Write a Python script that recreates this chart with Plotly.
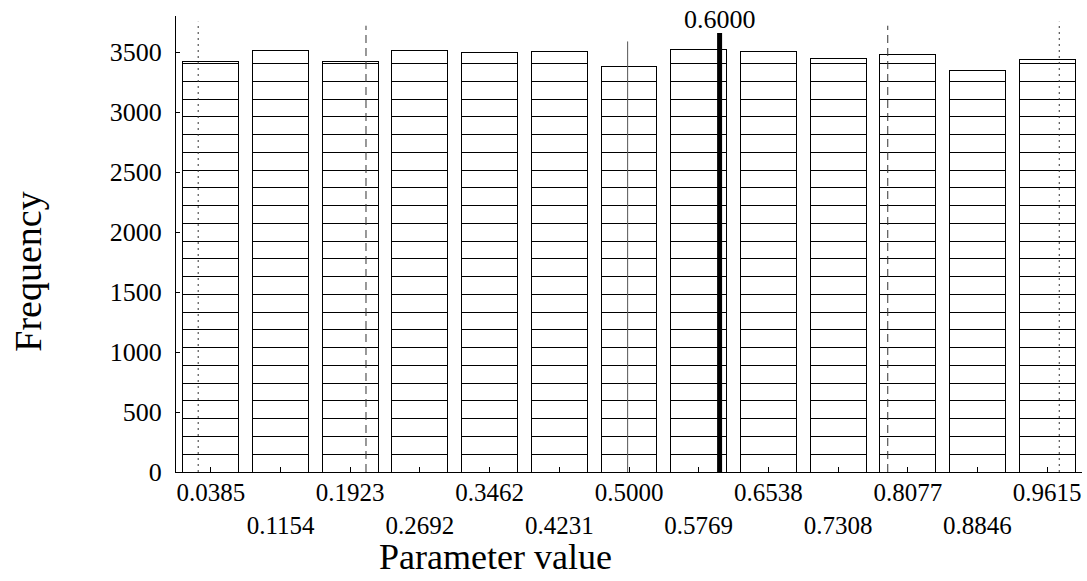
import plotly.graph_objects as go
import math

# ---- data ----
bin_centers = [0.0385, 0.1154, 0.1923, 0.2692, 0.3462, 0.4231, 0.5000,
               0.5769, 0.6538, 0.7308, 0.8077, 0.8846, 0.9615]
tick_labels = ["0.0385", "0.1154", "0.1923", "0.2692", "0.3462", "0.4231", "0.5000",
               "0.5769", "0.6538", "0.7308", "0.8077", "0.8846", "0.9615"]
frequencies = [3422, 3511, 3417, 3511, 3494, 3502, 3380, 3525, 3505, 3447, 3477, 3350, 3436]
segment_size = 148  # count per stacked segment

# reference lines
quantile_lo_outer = 0.0245
quantile_lo_inner = 0.2097
median_value = 0.4985
quantile_hi_inner = 0.7856
quantile_hi_outer = 0.9749
true_value = 0.6000
outer_top = 3752
inner_top = 3719
median_top = 3588
true_top = 3658
y_ticks = [0, 500, 1000, 1500, 2000, 2500, 3000, 3500]

FONT = "Liberation Serif, Times New Roman, serif"

fig = go.Figure()

n_seg = math.ceil(max(frequencies) / segment_size)
for k in range(n_seg):
    ys = []
    for f in frequencies:
        v = min(segment_size, f - k * segment_size)
        ys.append(v if v > 0 else None)
    fig.add_trace(go.Bar(
        x=bin_centers, y=ys,
        marker=dict(color="white", line=dict(color="black", width=1)),
        showlegend=False, hoverinfo="skip",
    ))

def vline(x, top, dash, width, color):
    fig.add_trace(go.Scatter(
        x=[x, x], y=[0, top], mode="lines",
        line=dict(color=color, width=width, dash=dash),
        showlegend=False, hoverinfo="skip",
    ))

vline(quantile_lo_outer, outer_top, "2px,4px", 1, "#333333")
vline(quantile_hi_outer, outer_top, "2px,4px", 1, "#333333")
vline(quantile_lo_inner, inner_top, "8px,5px", 1, "#333333")
vline(quantile_hi_inner, inner_top, "8px,5px", 1, "#333333")
vline(median_value, median_top, "solid", 1, "#555555")
vline(true_value, true_top, "solid", 5, "black")

fig.add_annotation(x=true_value, y=true_top, text=f"{true_value:.4f}",
                   showarrow=False, yanchor="bottom", yshift=-3,
                   font=dict(family=FONT, size=26, color="black"))

# axis titles
fig.add_annotation(xref="paper", yref="paper", x=0.353, y=-0.186,
                   text="Parameter value", showarrow=False,
                   xanchor="center", yanchor="middle",
                   font=dict(family=FONT, size=36, color="black"))
fig.add_annotation(xref="paper", yref="paper", x=-0.163, y=0.44,
                   text="Frequency", showarrow=False, textangle=-90,
                   xanchor="center", yanchor="middle",
                   font=dict(family=FONT, size=38, color="black"))

ticktext = [t if i % 2 == 0 else "<br>" + t for i, t in enumerate(tick_labels)]

fig.update_layout(
    width=1087, height=581,
    margin=dict(l=175.5, r=4.5, t=16, b=109, autoexpand=False),
    paper_bgcolor="white", plot_bgcolor="white",
    barmode="stack", bargap=0.197,
    font=dict(family=FONT, size=26, color="black"),
    xaxis=dict(
        range=[0, 1], tickvals=bin_centers, ticktext=ticktext, tickangle=0,
        ticks="inside", ticklen=5, tickcolor="black", tickwidth=1,
        showline=True, linecolor="black", linewidth=1,
        showgrid=False, zeroline=False, mirror=False,
        tickfont=dict(family=FONT, size=25),
        ticklabelstandoff=-2,
    ),
    yaxis=dict(
        range=[0, 3800], tickvals=y_ticks,
        ticks="inside", ticklen=4, tickcolor="black", tickwidth=1,
        showline=True, linecolor="black", linewidth=1,
        showgrid=False, zeroline=False, mirror=False,
        tickfont=dict(family=FONT, size=26),
        ticklabelstandoff=8,
    ),
)

fig.write_html("out.html")
